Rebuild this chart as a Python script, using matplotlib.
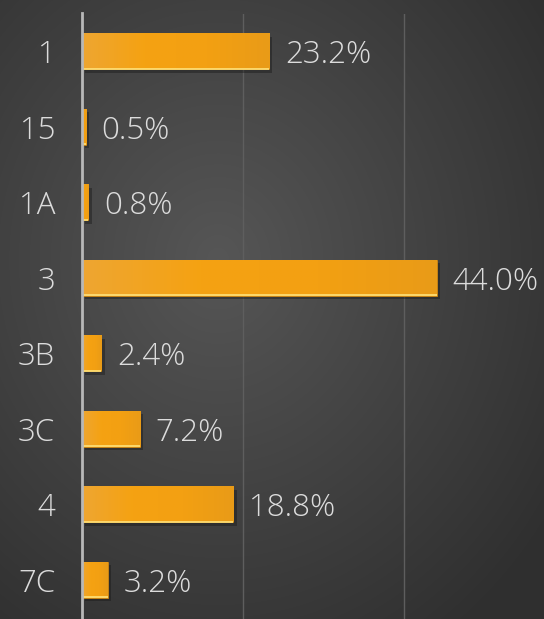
import numpy as np
import matplotlib
matplotlib.use("Agg")
import matplotlib.pyplot as plt
import matplotlib.patheffects as pe
from matplotlib.colors import LinearSegmentedColormap

categories = ["1", "15", "1A", "3", "3B", "3C", "4", "7C"]
values = [23.2, 0.5, 0.8, 44.0, 2.4, 7.2, 18.8, 3.2]
value_labels = ["23.2%", "0.5%", "0.8%", "44.0%", "2.4%", "7.2%", "18.8%", "3.2%"]

W, H = 544, 619
fig = plt.figure(figsize=(W / 100, H / 100), dpi=100)

# background radial gradient
bg = fig.add_axes([0, 0, 1, 1])
yy, xx = np.mgrid[0:H, 0:W]
cx, cy = 0.40 * W, 0.42 * H
r = np.sqrt(((xx - cx) / W) ** 2 + ((yy - cy) / H) ** 2)
r = np.clip(r / 0.75, 0, 1)
cmap = LinearSegmentedColormap.from_list("bg", ["#565656", "#2f2f2f"])
bg.imshow(r, cmap=cmap, vmin=0, vmax=1, aspect="auto", extent=[0, 1, 0, 1], origin="upper")
bg.axis("off")

FONT = ["Open Sans", "DejaVu Sans"]
FS = 22.5
TC = "#dcdcdc"

left = 81.7 / W
top = 13.5 / H
ax = fig.add_axes([left, 0, 1 - left, 1 - top])
ax.patch.set_alpha(0)
xmax = (W - 81.7) / 8.068
ax.set_xlim(0, xmax)
n = len(categories)
pos = np.arange(n)
ax.set_ylim(n - 0.5 + 0.02, -0.5)

bh = 0.477
ax.set_xticks([20, 40])
ax.grid(axis="x", color="#5e5e5e", lw=1)
ax.set_axisbelow(True)
ax.tick_params(axis="x", length=0, labelbottom=False)
ax.tick_params(axis="y", length=0, pad=19)
ax.set_yticks(pos)
ax.set_yticklabels(categories)
for lab in ax.get_yticklabels():
    lab.set_fontfamily(FONT)
    lab.set_fontsize(FS)
    lab.set_color(TC)
    lab.set_fontweight("light")
    lab.set_verticalalignment("center_baseline")
for s in ["top", "right", "bottom"]:
    ax.spines[s].set_visible(False)
ax.spines["left"].set_color("#b8b8b8")
ax.spines["left"].set_linewidth(2)
ax.spines["left"].set_zorder(5)

bars = ax.barh(pos, values, height=bh, color="#F3A115", edgecolor="#D98C10", linewidth=0.5,
               zorder=3)
for b in bars:
    b.set_path_effects([pe.SimplePatchShadow(offset=(2.5, -2.5), shadow_rgbFace="#151515", alpha=0.4),
                        pe.Normal()])

# subtle horizontal gradient inside each bar
gcmap = LinearSegmentedColormap.from_list("bar", ["#EEA632", "#F5A212", "#F3A012", "#E99B18"])
grad = np.linspace(0, 1, 256).reshape(1, -1)
for b in bars:
    x0, y0 = b.get_x(), b.get_y()
    w, h = b.get_width(), b.get_height()
    im = ax.imshow(grad, cmap=gcmap, aspect="auto", extent=[x0, x0 + w, y0 + h, y0],
                   zorder=3.5, interpolation="bilinear")
    im.set_clip_path(b)
ax.set_xlim(0, xmax)
ax.set_ylim(n - 0.5 + 0.02, -0.5)
ax.set_aspect("auto")

ax.hlines(pos + bh / 2 - 0.008, 0, values, color="#FFE27A", lw=1.2, zorder=4)

for p, v, t in zip(pos, values, value_labels):
    ax.text(v + 16 / 8.068, p, t, va="center_baseline", ha="left", fontsize=FS, color=TC,
            fontfamily=FONT, fontweight="light")

fig.savefig("out.png", dpi=100)
